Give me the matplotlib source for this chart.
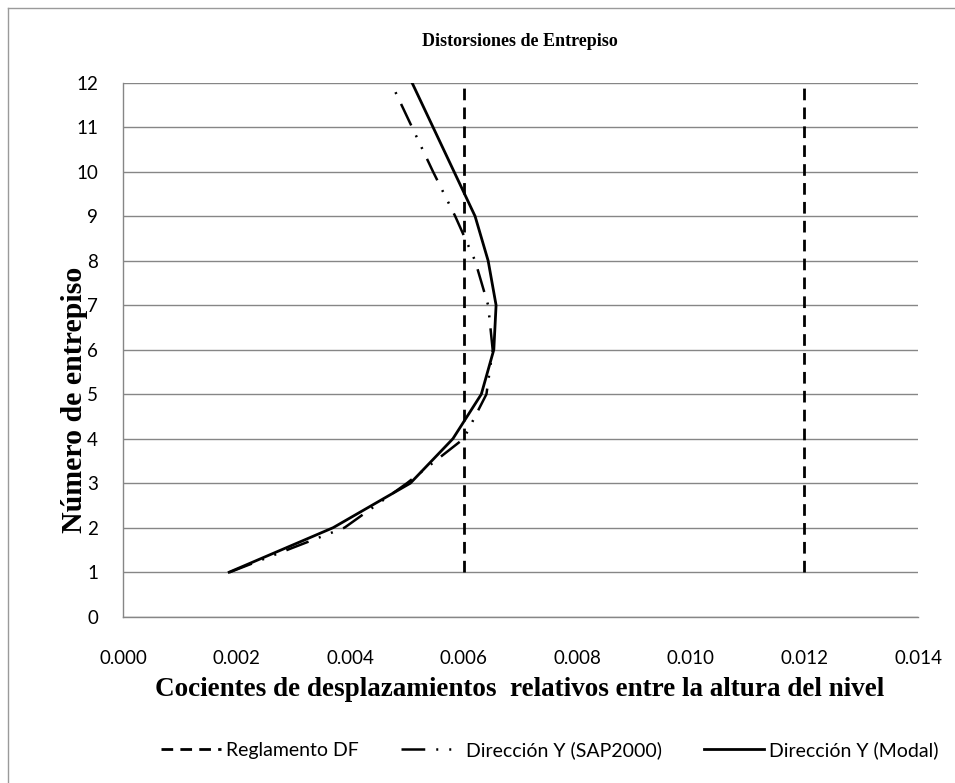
import numpy as np
from matplotlib import pyplot as plt
from matplotlib.lines import Line2D

# Data.
levels = [1, 2, 3, 4, 5, 6, 7, 8, 9, 10, 11, 12]
sap2000 = [0.00188, 0.00390, 0.00500, 0.00600, 0.00640, 0.00651,
           0.00643, 0.00620, 0.00585, 0.00546, 0.00509, 0.00472]
modal = [0.00187, 0.00370, 0.00506, 0.00581, 0.00631, 0.00653,
         0.00657, 0.00643, 0.00620, 0.00583, 0.00546, 0.00509]
reg_limits = [0.006, 0.012]
reg_levels = [1, 12]

title = 'Distorsiones de Entrepiso'
xlabel = 'Cocientes de desplazamientos  relativos entre la altura del nivel'
ylabel = 'Número de entrepiso'
names = ['Reglamento DF', 'Dirección Y (SAP2000)', 'Dirección Y (Modal)']

W, H = 955, 783
fig = plt.figure(figsize=(W / 100, H / 100), dpi=100)
ax = fig.add_axes([123 / W, 1 - 616.7 / H, (918 - 123) / W, (616.7 - 82.7) / H])

grid = '#868686'
serif = 'Liberation Serif'
sans = 'Lato'

for i, x in enumerate(reg_limits):
    ax.plot([x, x], reg_levels, color='black', lw=2.0, dashes=(4.2, 2.6),
            label=names[0] if i == 0 else None)
ax.plot(sap2000, levels, color='black', lw=1.8,
        dashes=(9.5, 4.4, 0.8, 4.4, 0.8, 4.4), label=names[1])
ax.plot(modal, levels, color='black', lw=2.0, label=names[2])

ax.set_xlim(0, 0.014)
ax.set_ylim(0, 12)
ax.set_xticks(np.arange(0, 0.0141, 0.002))
ax.set_xticklabels([f'{v:.3f}' for v in np.arange(0, 0.0141, 0.002)])
ax.set_yticks(range(0, 13))
ax.tick_params(length=0, labelsize=13.5)
ax.tick_params(axis='x', pad=24)
ax.tick_params(axis='y', pad=18)
for lab in ax.get_xticklabels() + ax.get_yticklabels():
    lab.set_family(sans)

ax.grid(axis='y', color=grid, lw=1.0)
ax.set_axisbelow(True)
for s in ['top', 'right']:
    ax.spines[s].set_visible(False)
for s in ['left', 'bottom']:
    ax.spines[s].set_color(grid)
    ax.spines[s].set_linewidth(1.0)

fig.text(519.5 / W, 1 - 42 / H, title, ha='center', va='center',
         family=serif, weight='bold', fontsize=13)
fig.text(520 / W, 1 - 690 / H, xlabel, ha='center', va='center',
         family=serif, weight='bold', fontsize=19.5)
fig.text(75 / W, 1 - 400 / H, ylabel, ha='center', va='center', rotation=90,
         family=serif, weight='bold', fontsize=21.5)

fig.legend(loc='center', bbox_to_anchor=(549.5 / W, 1 - 750 / H), ncol=3,
           frameon=False, handlelength=3.1, columnspacing=2.15,
           handletextpad=0.25, prop={'family': sans, 'size': 14})

# Chart border (only left and top edges fall inside the picture).
fig.add_artist(Line2D([8 / W, 8 / W], [0, 1 - 8 / H], color='#9a9a9a', lw=1.0))
fig.add_artist(Line2D([8 / W, 1], [1 - 8 / H, 1 - 8 / H], color='#9a9a9a', lw=1.0))

fig.savefig('out.png', dpi=100)
